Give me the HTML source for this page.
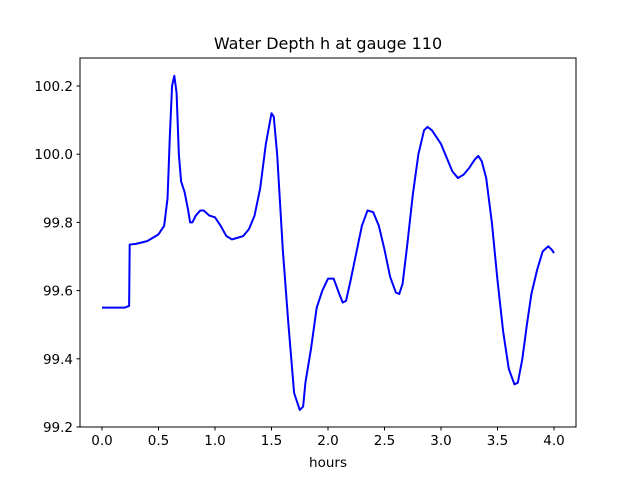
<!DOCTYPE html>
<html><head><meta charset="utf-8"><style>
body{margin:0;background:#fff}
svg{display:block;font-family:"DejaVu Sans","Liberation Sans",sans-serif}
</style></head><body>
<svg id="chart" width="640" height="480" viewBox="0 0 640 480">
<rect width="640" height="480" fill="#fff"/>
<text x="328" y="49" text-anchor="middle" font-size="16">Water Depth h at gauge 110</text>
<g id="plot"></g>
<rect x="80" y="58" width="496" height="369" fill="none" stroke="#000" stroke-width="1"/>
<text x="328" y="467" text-anchor="middle" font-size="13.5">hours</text>
</svg>
<script>
const xs=[0,0.2,0.24,0.245,0.3,0.4,0.5,0.55,0.58,0.6,0.62,0.64,0.66,0.68,0.7,0.73,0.76,0.78,0.8,0.83,0.87,0.9,0.95,1.0,1.05,1.1,1.15,1.2,1.25,1.3,1.35,1.4,1.45,1.5,1.52,1.55,1.6,1.65,1.7,1.75,1.78,1.8,1.85,1.9,1.95,2.0,2.05,2.1,2.13,2.16,2.2,2.25,2.3,2.35,2.4,2.45,2.5,2.55,2.6,2.63,2.66,2.7,2.75,2.8,2.85,2.88,2.92,3.0,3.05,3.1,3.15,3.2,3.25,3.3,3.33,3.36,3.4,3.45,3.5,3.55,3.6,3.65,3.68,3.72,3.76,3.8,3.85,3.9,3.95,3.98,4.0];
const ys=[99.55,99.55,99.555,99.735,99.737,99.745,99.765,99.79,99.87,100.05,100.2,100.23,100.18,100.0,99.92,99.89,99.84,99.80,99.80,99.82,99.835,99.835,99.82,99.815,99.79,99.76,99.75,99.755,99.76,99.78,99.82,99.9,100.03,100.12,100.11,100.0,99.72,99.5,99.3,99.25,99.26,99.33,99.43,99.55,99.6,99.635,99.635,99.59,99.565,99.57,99.63,99.71,99.79,99.835,99.83,99.79,99.72,99.64,99.595,99.59,99.62,99.73,99.88,100.0,100.07,100.08,100.07,100.03,99.99,99.95,99.93,99.94,99.96,99.985,99.995,99.98,99.93,99.8,99.63,99.48,99.37,99.325,99.33,99.4,99.5,99.59,99.66,99.715,99.73,99.72,99.71];
const xTicks=[0,0.5,1,1.5,2,2.5,3,3.5,4];
const xTickLabels=["0.0","0.5","1.0","1.5","2.0","2.5","3.0","3.5","4.0"];
const yTicks=[99.2,99.4,99.6,99.8,100.0,100.2];
const yTickLabels=["99.2","99.4","99.6","99.8","100.0","100.2"];
const X=v=>102+v*113;
const Y=v=>427-(v-99.2)*341;
const ns="http://www.w3.org/2000/svg";
const g=document.getElementById('plot');
function mk(t,a){const e=document.createElementNS(ns,t);for(const k in a)e.setAttribute(k,a[k]);g.appendChild(e);return e;}
xTicks.forEach((t,i)=>{
 const l=mk('line',{x1:X(t),x2:X(t),y1:427,y2:430.5,stroke:'#000'});
 
 
 const tx=mk('text',{x:X(t),y:445,'text-anchor':'middle','font-size':'13.5'});
 tx.textContent=xTickLabels[i];
 
 
});
yTicks.forEach((t,i)=>{
 const l=mk('line',{x1:76.5,x2:80,y1:Y(t),y2:Y(t),stroke:'#000'});
 
 
 const tx=mk('text',{x:73,y:Y(t)+5,'text-anchor':'end','font-size':'13.5'});
 tx.textContent=yTickLabels[i];
 
 
});
const p=mk('polyline',{points:xs.map((x,i)=>X(x)+','+Y(ys[i])).join(' '),fill:'none',stroke:'#0000ff','stroke-width':'2','stroke-linejoin':'round'});


</script>
</body></html>
